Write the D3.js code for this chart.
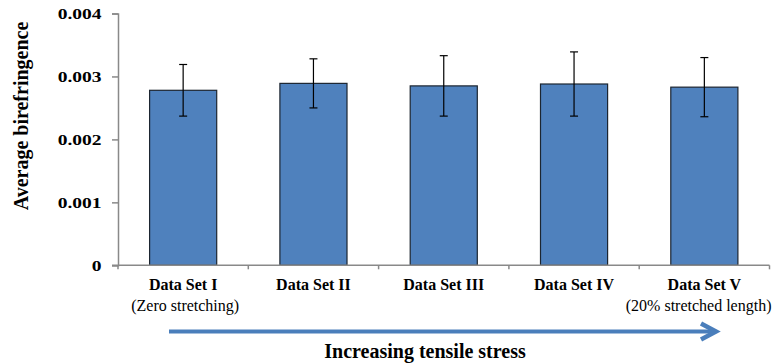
<!DOCTYPE html>
<html>
<head>
<meta charset="utf-8">
<script src="https://cdn.jsdelivr.net/npm/d3@7"></script>
<style>
  html, body { margin: 0; padding: 0; background: #fff; }
  svg { display: block; }
  svg text { font-family: "Liberation Serif", "Times New Roman", serif !important; fill: #000; }
</style>
</head>
<body>
<svg id="chart" width="773" height="364"></svg>
<script>
const categories = ["Data Set I", "Data Set II", "Data Set III", "Data Set IV", "Data Set V"];
const subLabels = ["(Zero stretching)", "", "", "", "(20% stretched length)"];
const values = [0.00278, 0.00289, 0.00285, 0.00288, 0.00283];
const errors = [0.00041, 0.00039, 0.00048, 0.00051, 0.00047];
const yTicks = [0, 0.001, 0.002, 0.003, 0.004];
const yTickLabels = ["0", "0.001", "0.002", "0.003", "0.004"];
const yTitle = "Average birefringence";
const xTitle = "Increasing tensile stress";

(function () {
const svg = d3.select("#chart");
const pLeft = 118, pRight = 769.5, pTop = 13.5, pBottom = 265.3;
const axisColor = "#898989";
const serif = "'Liberation Serif', 'Times New Roman', serif";

const y = d3.scaleLinear().domain([0, 0.004]).range([pBottom, pTop]);
const xBar = d3.scaleBand().domain(categories).range([pLeft, pRight])
  .paddingInner(0.485).paddingOuter(0.2425);
const xCat = d3.scaleBand().domain(categories).range([pLeft, pRight]).padding(0);

// bars
svg.append("g").selectAll("rect").data(categories).join("rect")
  .attr("x", d => xBar(d))
  .attr("y", (d, i) => y(values[i]))
  .attr("width", xBar.bandwidth())
  .attr("height", (d, i) => y(0) - y(values[i]))
  .attr("fill", "#4F81BD")
  .attr("stroke", "#1c2530")
  .attr("stroke-width", 1.2);

// error bars
const eg = svg.append("g").attr("stroke", "#000").attr("stroke-width", 1.2);
categories.forEach((c, i) => {
  const cx = xBar(c) + xBar.bandwidth() / 2;
  const y1 = y(values[i] + errors[i]), y2 = y(values[i] - errors[i]);
  eg.append("line").attr("x1", cx).attr("x2", cx).attr("y1", y1).attr("y2", y2);
  eg.append("line").attr("x1", cx - 4).attr("x2", cx + 4).attr("y1", y1).attr("y2", y1);
  eg.append("line").attr("x1", cx - 4).attr("x2", cx + 4).attr("y1", y2).attr("y2", y2);
});

// y axis
const yAxis = d3.axisLeft(y).tickValues(yTicks)
  .tickFormat((d, i) => yTickLabels[i]).tickSize(6).tickPadding(10);
const yg = svg.append("g").attr("transform", `translate(${pLeft},0)`).call(yAxis);
yg.attr("font-family", null);
yg.select(".domain").attr("stroke", axisColor).attr("stroke-width", 1.5);
yg.selectAll(".tick line").attr("stroke", axisColor).attr("stroke-width", 1.5);
yg.selectAll(".tick text")
  .style("font-family", serif)
  .attr("font-weight", "bold").attr("font-size", 15)
  .attr("fill", "#000")
  .attr("x", -16.5 / 1.3)
  .attr("transform", "scale(1.3,1)");

// x axis
const xg = svg.append("g");
xg.append("line").attr("x1", pLeft - 6).attr("x2", pRight)
  .attr("y1", pBottom).attr("y2", pBottom)
  .attr("stroke", axisColor).attr("stroke-width", 1.5);
const bounds = categories.map(c => xCat(c)).concat([xCat(categories[categories.length - 1]) + xCat.bandwidth()]);
xg.selectAll("line.tk").data(bounds).join("line").attr("class", "tk")
  .attr("x1", d => d).attr("x2", d => d)
  .attr("y1", pBottom).attr("y2", pBottom + 4)
  .attr("stroke", axisColor).attr("stroke-width", 1.5);
xg.selectAll("text.cat").data(categories).join("text").attr("class", "cat")
  .attr("x", d => xCat(d) + xCat.bandwidth() / 2)
  .attr("y", 290)
  .attr("text-anchor", "middle")
  .style("font-family", serif)
  .attr("font-weight", "bold").attr("font-size", 16)
  .text(d => d);
xg.selectAll("text.sub").data(categories).join("text").attr("class", "sub")
  .attr("x", (d, i) => i === categories.length - 1 ? 771.5 : xCat(d) + xCat.bandwidth() / 2 + 2)
  .attr("y", 311)
  .attr("text-anchor", (d, i) => i === categories.length - 1 ? "end" : "middle")
  .style("font-family", serif)
  .attr("font-size", 16)
  .text((d, i) => subLabels[i]);

// y title
svg.append("text")
  .attr("transform", "translate(28,116) rotate(-90)")
  .attr("text-anchor", "middle")
  .style("font-family", serif)
  .attr("font-weight", "bold").attr("font-size", 20)
  .text(yTitle);

// arrow
const arrowColor = "#4A7EBB";
svg.append("line").attr("x1", 169).attr("x2", 715).attr("y1", 331.5).attr("y2", 331.5)
  .attr("stroke", arrowColor).attr("stroke-width", 4);
svg.append("path").attr("d", "M701,323.5 L716,331.5 L701,339.5")
  .attr("fill", "none").attr("stroke", arrowColor).attr("stroke-width", 4.5)
  .attr("stroke-linejoin", "miter").attr("stroke-linecap", "butt");

// x title
svg.append("text").attr("x", 425).attr("y", 358)
  .attr("text-anchor", "middle")
  .style("font-family", serif)
  .attr("font-weight", "bold").attr("font-size", 20)
  .text(xTitle);
})();
</script>
</body>
</html>
